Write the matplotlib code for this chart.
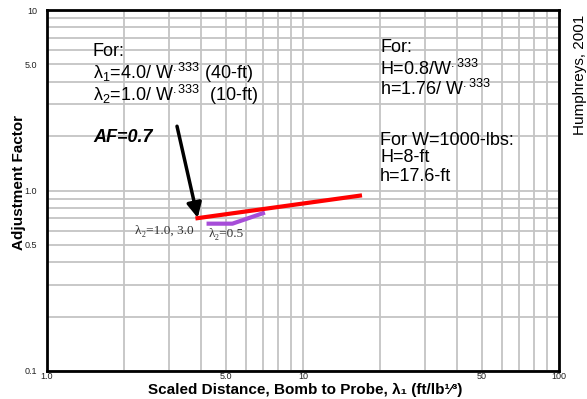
import matplotlib
matplotlib.use('Agg')
import matplotlib.pyplot as plt
from matplotlib.ticker import FixedLocator, LogLocator, NullFormatter

plt.rcParams['font.family'] = ['Liberation Sans', 'DejaVu Sans']
plt.rcParams['mathtext.fontset'] = 'custom'
plt.rcParams['mathtext.rm'] = 'Liberation Sans'
plt.rcParams['mathtext.it'] = 'Liberation Sans:italic'
plt.rcParams['mathtext.bf'] = 'Liberation Sans:bold'

# данные
red_x = [3.8, 17.0]
red_y = [0.70, 0.94]
purple_x = [4.2, 5.3, 7.1]
purple_y = [0.655, 0.655, 0.755]

x_ticks = [1, 5, 10, 50, 100]
x_labels = ['1.0', '5.0', '10', '50', '100']
y_ticks = [0.1, 0.5, 1, 5, 10]
y_labels = ['0.1', '0.5', '1.0', '5.0', '10']

fig = plt.figure(figsize=(5.87, 3.99), dpi=100)
ax = fig.add_axes([47/587, 28/399, 512/587, 361/399])
ax.set_xscale('log')
ax.set_yscale('log')
ax.set_xlim(1, 100)
ax.set_ylim(0.1, 10)

ax.xaxis.set_major_locator(FixedLocator(x_ticks))
ax.set_xticklabels(x_labels)
ax.yaxis.set_major_locator(FixedLocator(y_ticks))
ax.set_yticklabels(y_labels)
for a in (ax.xaxis, ax.yaxis):
    a.set_minor_locator(LogLocator(base=10, subs=range(1, 10)))
    a.set_minor_formatter(NullFormatter())
ax.tick_params(which='both', length=0, labelsize=6.5, colors='#222222')
ax.tick_params(axis='y', pad=7)
ax.tick_params(axis='x', pad=0.5)
ax.grid(which='both', color='#c4c4c4', linewidth=1.3)
ax.set_axisbelow(True)
for s in ax.spines.values():
    s.set_linewidth(2)
    s.set_color('black')

ax.plot(purple_x, purple_y, color='#a64dd8', linewidth=3, solid_capstyle='butt')
ax.plot(red_x, red_y, color='#ff0000', linewidth=3, solid_capstyle='butt')

ax.annotate('', xy=(3.88, 0.705), xytext=(3.22, 2.27),
            arrowprops=dict(arrowstyle='-|>', color='black', lw=2.5, mutation_scale=22,
                            shrinkA=0, shrinkB=0))

# подписи
T = ax.transAxes
ax.text(46/512, 319/360, 'For:', transform=T, fontsize=13, va='center')
ax.text(46/512, 297/360, r'λ$_1$=4.0/ W$^{.333}$ (40-ft)', transform=T, fontsize=13, va='center')
ax.text(46/512, 275/360, r'λ$_2$=1.0/ W$^{.333}$  (10-ft)', transform=T, fontsize=13, va='center')
ax.text(46/512, 233/360, 'AF=0.7', transform=T, fontsize=13, va='center',
        fontweight='bold', fontstyle='italic')

ax.text(333/512, 323/360, 'For:', transform=T, fontsize=13, va='center')
ax.text(333/512, 301/360, r'H=0.8/W$^{.333}$', transform=T, fontsize=13, va='center')
ax.text(333/512, 281/360, r'h=1.76/ W$^{.333}$', transform=T, fontsize=13, va='center')
ax.text(333/512, 230/360, 'For W=1000-lbs:', transform=T, fontsize=13, va='center')
ax.text(333/512, 213/360, 'H=8-ft', transform=T, fontsize=13, va='center')
ax.text(333/512, 194/360, 'h=17.6-ft', transform=T, fontsize=13, va='center')

ax.text(147/512, 140/360, 'λ₂=1.0, 3.0', transform=T, fontsize=9.5, va='center', ha='right',
        family=['Liberation Serif', 'DejaVu Serif'], color='#333333')
ax.text(162/512, 137/360, 'λ₂=0.5', transform=T, fontsize=9.5, va='center',
        family=['Liberation Serif', 'DejaVu Serif'], color='#333333')

fig.text(580/587, 1 - 75/399, 'Humphreys, 2001', rotation=90, fontsize=11,
         ha='center', va='center')

# подписи осей
fig.text(305/587, 1 - 389.5/399, 'Scaled Distance, Bomb to Probe, λ₁ (ft/lb¹⁄³)',
         fontsize=11, fontweight='bold', ha='center', va='center')
fig.text(19/587, 1 - 183/399, 'Adjustment Factor', rotation=90,
         fontsize=11, fontweight='bold', ha='center', va='center')

plt.savefig('out.png', dpi=100)
